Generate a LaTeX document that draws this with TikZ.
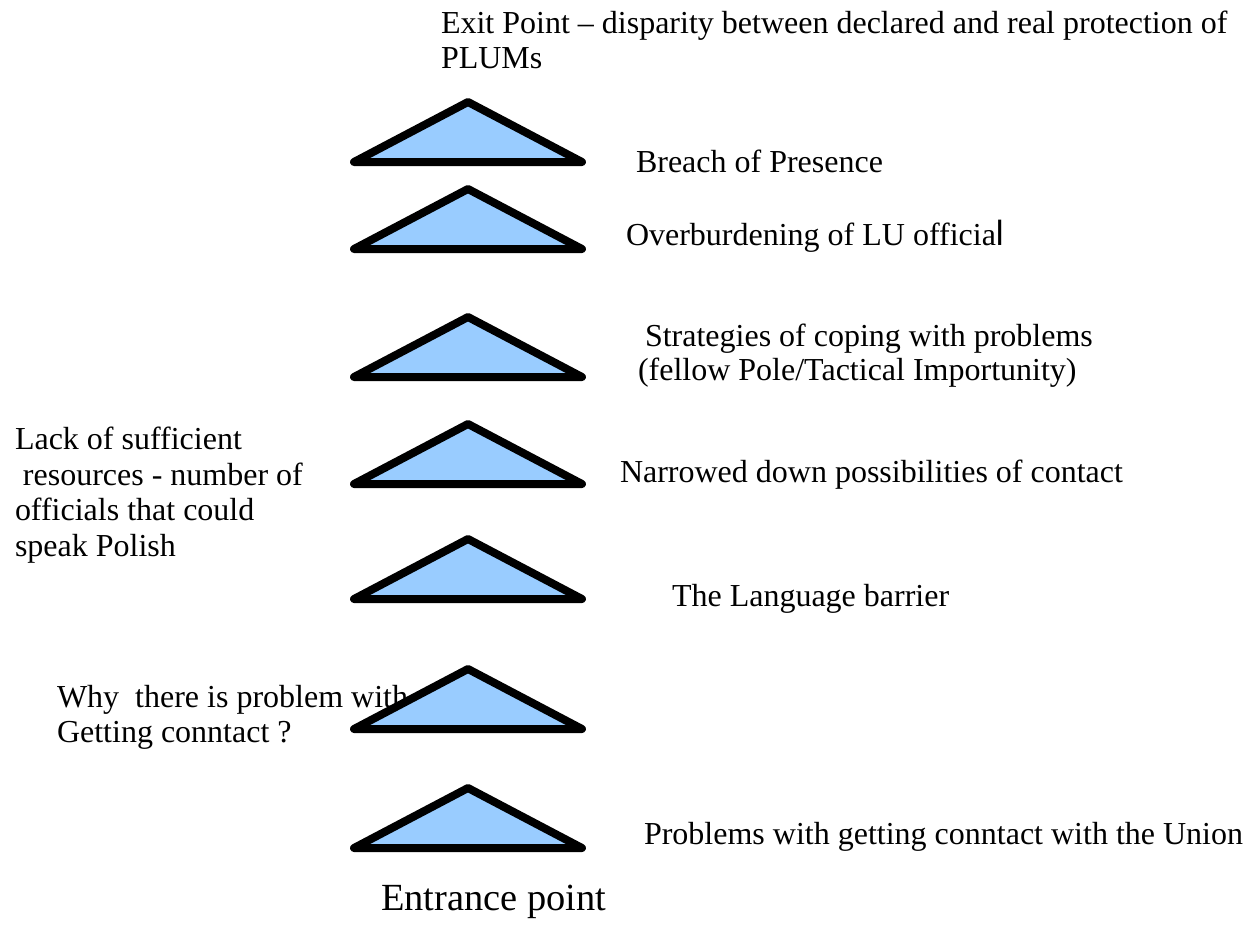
\documentclass[tikz,border=0pt]{standalone}
\usepackage{fontspec}
\setmainfont{Liberation Serif}
\newfontfamily\stemfont{Liberation Sans}
\definecolor{triblue}{RGB}{153,204,255}
\begin{document}
\begin{tikzpicture}[x=1pt,y=-1pt,
  tri/.style={draw=black, fill=triblue, line width=8pt, line join=round, line cap=round},
  lbl/.style={anchor=base west, inner sep=0pt, outer sep=0pt, align=left,
              font=\fontsize{32}{35}\selectfont},
  biglbl/.style={anchor=base west, inner sep=0pt, outer sep=0pt,
              font=\fontsize{38.4}{44}\selectfont}]
\useasboundingbox (0,0) rectangle (1248,945);

% labels (drawn first, the triangles sit on top of them);
% a multi-line label is placed by the baseline of its last line
\node[lbl] (exit) at (441,68) {Exit Point -- disparity between declared and real protection of\\PLUMs};
\node[lbl] (breach) at (636,172) {Breach of Presence};
\node[lbl] (overb) at (626,245) {Overburdening of LU officia{\stemfont\fontsize{35}{35}\selectfont l}};
\node[lbl, font=\fontsize{32}{34}\selectfont] (strat) at (638,380) {\hspace*{7pt}Strategies of coping with problems\\(fellow Pole/Tactical Importunity)};
\node[lbl] (narrow) at (620,482) {Narrowed down possibilities of contact};
\node[lbl] (lang) at (672,606) {The Language barrier};
\node[lbl] (prob) at (644,844) {Problems with getting conntact with the Union};
\node[lbl, font=\fontsize{32}{35.5}\selectfont] (lack) at (15,556) {Lack of sufficient\\\hspace*{8pt}resources - number of\\officials that could\\speak Polish};
\node[lbl] (why) at (57,742) {Why\ \ there is problem with\\Getting conntact ?};
\node[biglbl] (entr) at (381,910) {Entrance point};

% stacked triangles, given by the y of their bases
\foreach \b in {162,249,377,484,599,729,848}
  \draw[tri] (354,\b) -- (468,{\b-60}) -- (582,\b) -- cycle;
\end{tikzpicture}
\end{document}
